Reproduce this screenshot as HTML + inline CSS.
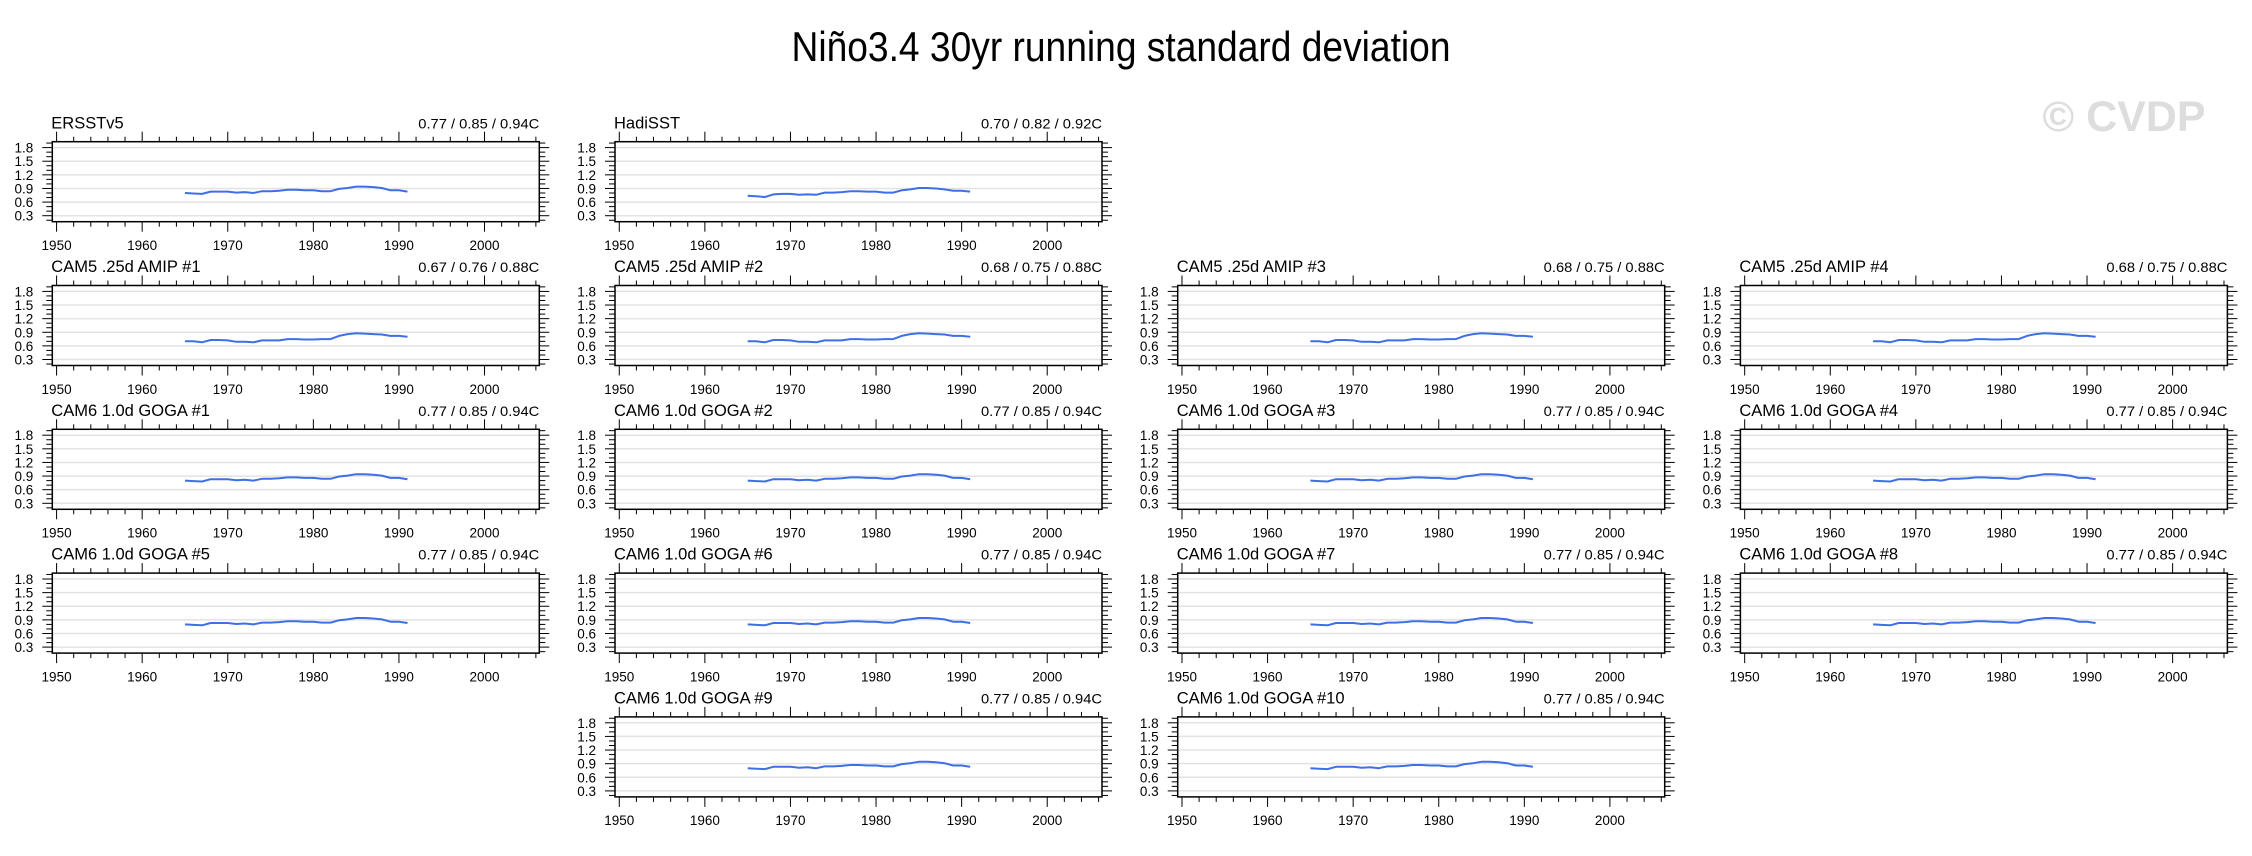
<!DOCTYPE html>
<html><head><meta charset="utf-8"><style>
html,body{margin:0;padding:0;background:#fff;}
svg{display:block;font-family:"Liberation Sans",sans-serif;}
</style></head><body>
<svg id="chart" width="2252" height="856" viewBox="0 0 2252 856" xmlns="http://www.w3.org/2000/svg">
<text x="1121" y="61" font-size="42" text-anchor="middle" textLength="659" lengthAdjust="spacingAndGlyphs">Niño3.4 30yr running standard deviation</text>
<text x="2124" y="131" font-size="43" font-weight="bold" fill="#dddddd" text-anchor="middle">© CVDP</text>
</svg>
<script>
const years = [1965,1966,1967,1968,1969,1970,1971,1972,1973,1974,1975,1976,1977,1978,1979,1980,1981,1982,1983,1984,1985,1986,1987,1988,1989,1990,1991];
const ersstValues = [.80,.79,.78,.83,.83,.83,.81,.82,.80,.84,.84,.85,.87,.87,.86,.86,.84,.84,.89,.91,.94,.94,.93,.91,.86,.86,.83];
const hadisstValues = [.74,.73,.71,.77,.78,.78,.76,.77,.76,.81,.81,.82,.84,.84,.83,.83,.81,.81,.86,.88,.91,.91,.90,.88,.85,.85,.83];
const amipValues = [.70,.70,.68,.73,.73,.72,.69,.69,.68,.72,.72,.72,.75,.75,.74,.74,.75,.75,.82,.86,.88,.87,.86,.85,.82,.82,.80];
const gogaValues = ersstValues;
const xTicks = [1950,1960,1970,1980,1990,2000];
const yTicks = [0.3,0.6,0.9,1.2,1.5,1.8];
const yTickLabels = ["0.3","0.6","0.9","1.2","1.5","1.8"];
const panelTitles = ["ERSSTv5","HadiSST","CAM5 .25d AMIP #1","CAM5 .25d AMIP #2","CAM5 .25d AMIP #3","CAM5 .25d AMIP #4","CAM6 1.0d GOGA #1","CAM6 1.0d GOGA #2","CAM6 1.0d GOGA #3","CAM6 1.0d GOGA #4","CAM6 1.0d GOGA #5","CAM6 1.0d GOGA #6","CAM6 1.0d GOGA #7","CAM6 1.0d GOGA #8","CAM6 1.0d GOGA #9","CAM6 1.0d GOGA #10"];
const panelStats = ["0.77 / 0.85 / 0.94C","0.70 / 0.82 / 0.92C","0.67 / 0.76 / 0.88C","0.68 / 0.75 / 0.88C","0.68 / 0.75 / 0.88C","0.68 / 0.75 / 0.88C","0.77 / 0.85 / 0.94C","0.77 / 0.85 / 0.94C","0.77 / 0.85 / 0.94C","0.77 / 0.85 / 0.94C","0.77 / 0.85 / 0.94C","0.77 / 0.85 / 0.94C","0.77 / 0.85 / 0.94C","0.77 / 0.85 / 0.94C","0.77 / 0.85 / 0.94C","0.77 / 0.85 / 0.94C"];
const panelSeries = [ersstValues,hadisstValues,amipValues,amipValues,amipValues,amipValues,gogaValues,gogaValues,gogaValues,gogaValues,gogaValues,gogaValues,gogaValues,gogaValues,gogaValues,gogaValues];
const panelCells = [[0,0],[0,1],[1,0],[1,1],[1,2],[1,3],[2,0],[2,1],[2,2],[2,3],[3,0],[3,1],[3,2],[3,3],[4,1],[4,2]];

const NS="http://www.w3.org/2000/svg";
const svg=document.getElementById('chart');
function mk(tag,attrs,parent){const e=document.createElementNS(NS,tag);for(const k in attrs)e.setAttribute(k,attrs[k]);(parent||svg).appendChild(e);return e;}
const X0=1949.5,X1=2006.4,Y0=0.168,Y1=1.93,W=487,H=80;
panelCells.forEach((cell,i)=>{
  const left=52.3+cell[1]*562.7, top=141.7+cell[0]*143.8;
  const sx=v=>left+(v-X0)/(X1-X0)*W;
  const sy=v=>top+H-(v-Y0)/(Y1-Y0)*H;
  const g=mk('g',{});
  
  
  const t=mk('text',{x:left-1,y:top-13.4,'font-size':16.5},g);t.textContent=panelTitles[i];
  
  
  const s=mk('text',{x:left+W,y:top-13.4,'font-size':14,'text-anchor':'end',textLength:121,lengthAdjust:'spacingAndGlyphs'},g);s.textContent=panelStats[i];
  
  
  yTicks.forEach((v,k)=>{
    const gl=mk('line',{x1:left,x2:left+W,y1:sy(v),y2:sy(v),stroke:'#e3e3e3','stroke-width':1.5},g);
    
    
    const lb=mk('text',{x:left-19,y:sy(v)+5,'font-size':13.5,'text-anchor':'end'},g);lb.textContent=yTickLabels[k];
    
    
  });
  for(let v=0.2;v<=1.95;v+=0.1){
    const major=yTicks.some(m=>Math.abs(m-v)<1e-6);const L=major?10:6;
    if(sy(v)<top-0.5)continue;
    mk('line',{x1:left-L,x2:left,y1:sy(v),y2:sy(v),stroke:'#000','stroke-width':1},g);
    mk('line',{x1:left+W,x2:left+W+L,y1:sy(v),y2:sy(v),stroke:'#000','stroke-width':1},g);
  }
  for(let yr=1950;yr<=2006;yr+=2){
    const major=yr%10===0;const L=major?10:5;
    mk('line',{x1:sx(yr),x2:sx(yr),y1:top-L,y2:top,stroke:'#000','stroke-width':1},g);
    mk('line',{x1:sx(yr),x2:sx(yr),y1:top+H,y2:top+H+L,stroke:'#000','stroke-width':1},g);
  }
  xTicks.forEach(v=>{
    const lb=mk('text',{x:sx(v),y:top+H+28.3,'font-size':13.5,'text-anchor':'middle'},g);lb.textContent=String(v);
    
    
  });
  const box=mk('rect',{x:left,y:top,width:W,height:H,fill:'none',stroke:'#000','stroke-width':1.5},g);
  
  
  const vals=panelSeries[i];
  const pts=years.map((y,k)=>sx(y).toFixed(1)+','+sy(vals[k]).toFixed(1)).join(' ');
  const ln=mk('polyline',{points:pts,fill:'none',stroke:'#3f6fe6','stroke-width':2,'stroke-linejoin':'round'},g);
  
  
});
</script>
</body></html>
